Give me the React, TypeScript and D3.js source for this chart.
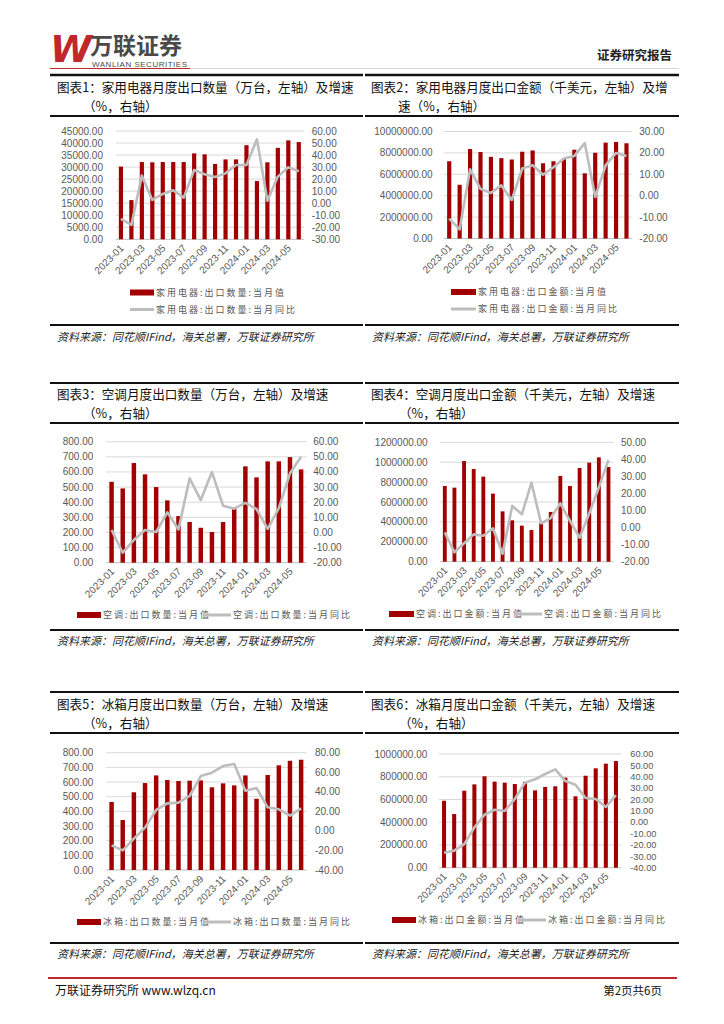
import React from "react";
import * as d3 from "d3";

const MONTHS = [
  "2023-01","2023-02","2023-03","2023-04","2023-05","2023-06",
  "2023-07","2023-08","2023-09","2023-10","2023-11","2023-12",
  "2024-01","2024-02","2024-03","2024-04","2024-05","2024-06",
];
const TICK_MONTHS = ["2023-01","2023-03","2023-05","2023-07","2023-09","2023-11","2024-01","2024-03","2024-05"];

// 家用电器 出口数量(万台) / 同比(%)
const APPL_QTY = [30200,16300,32100,32000,32100,32100,32100,35700,35300,31300,33200,33200,39100,24200,32000,38000,41100,40400];
const APPL_QTY_YOY = [-13.1,-18.1,22.9,2.7,7.7,10.7,4.6,27.6,24.0,21.8,24.8,31.8,31.8,53.1,2.1,22.1,29.8,26.5];
// 家用电器 出口金额(千美元) / 同比(%)
const APPL_VAL = [7220000,5020000,8360000,8080000,7630000,7510000,7380000,8110000,8230000,7030000,7220000,7450000,8300000,6090000,8010000,8960000,9020000,8900000];
const APPL_VAL_YOY = [-10.7,-15.7,12.3,3.2,1.3,4.8,-2.0,12.7,14.2,9.8,13.3,17.4,18.6,24.6,-0.6,14.2,20.0,18.6];
// 空调 出口数量 / 同比
const AC_QTY = [535,491,659,584,500,412,308,269,231,203,269,364,637,564,670,670,698,617];
const AC_QTY_YOY = [1.6,-13.4,-5.0,1.6,0.3,13.3,2.0,35.8,21.4,39.9,17.7,15.7,19.5,15.5,2.3,16.0,39.1,50.1];
// 空调 出口金额 / 同比
const AC_VAL = [761000,744000,1012000,932000,855000,684000,506000,416000,362000,318000,385000,500000,862000,761000,942000,996000,1049000,952000];
const AC_VAL_YOY = [-2.8,-14.5,-9.2,-4.0,-4.8,-0.4,-15.3,12.7,7.8,26.3,2.5,5.6,14.2,3.9,-5.9,8.3,23.6,39.6];
// 冰箱 出口数量 / 同比
const FR_QTY = [464,341,530,593,645,614,607,609,611,564,591,577,645,486,648,714,745,752];
const FR_QTY_YOY = [-14.8,-19.9,-7.9,3.3,21.4,28.2,28.9,35.7,56.1,59.5,66.3,68.4,41.1,43.9,24.1,22.1,15.6,23.1];
// 冰箱 出口金额 / 同比
const FR_VAL = [589000,472000,677000,733000,804000,757000,748000,736000,755000,680000,710000,716000,792000,628000,809000,874000,915000,938000];
const FR_VAL_YOY = [-26.8,-25.0,-19.2,-4.5,6.6,11.0,9.9,20.4,34.8,37.7,42.4,46.5,36.2,33.0,21.3,20.4,13.4,23.9];

const C1_LEFT = [0,5000,10000,15000,20000,25000,30000,35000,40000,45000];
const C1_RIGHT = [-30,-20,-10,0,10,20,30,40,50,60];
const C2_LEFT = [0,2000000,4000000,6000000,8000000,10000000];
const C2_RIGHT = [-20,-10,0,10,20,30];
const C3_LEFT = [0,100,200,300,400,500,600,700,800];
const C3_RIGHT = [-20,-10,0,10,20,30,40,50,60];
const C4_LEFT = [0,200000,400000,600000,800000,1000000,1200000];
const C4_RIGHT = [-20,-10,0,10,20,30,40,50];
const C5_LEFT = [0,100,200,300,400,500,600,700,800];
const C5_RIGHT = [-40,-20,0,20,40,60,80];
const C6_LEFT = [0,200000,400000,600000,800000,1000000];
const C6_RIGHT = [-40,-30,-20,-10,0,10,20,30,40,50,60];

const BAR_COLOR = "#a20000";
const LINE_COLOR = "#bdbdbd";
const AXIS_FONT = "'Liberation Sans', Arial, sans-serif";
const LEGEND_FONT = "'Noto Sans CJK SC', 'Noto Sans', sans-serif";
const TEXT_COLOR = "#595959";

type ChartProps = {
  bars: number[];
  line: number[];
  x0: number; x1: number; yTop: number; yBot: number;
  leftTicks: number[]; rightTicks: number[];
  leftLabelX: number; rightLabelX: number;
  rightFont?: number;
};

function Chart(p: ChartProps) {
  const x = d3.scaleBand<string>().domain(MONTHS).range([p.x0, p.x1]).paddingInner(0.6).paddingOuter(0.3);
  const yL = d3.scaleLinear().domain([d3.min(p.leftTicks)!, d3.max(p.leftTicks)!]).range([p.yBot, p.yTop]);
  const yR = d3.scaleLinear().domain([d3.min(p.rightTicks)!, d3.max(p.rightTicks)!]).range([p.yBot, p.yTop]);
  const cx = (m: string) => (x(m) as number) + x.bandwidth() / 2;
  const path = d3.line<number>().x((_, i) => cx(MONTHS[i])).y((d) => yR(d))(p.line) || "";
  const fmt = (v: number) => v.toFixed(2);
  return (
    <g>
      {p.leftTicks.map((t) => (
        <line key={"g" + t} x1={p.x0} x2={p.x1} y1={yL(t)} y2={yL(t)} stroke={t === 0 ? "#bfbfbf" : "#d9d9d9"} strokeWidth={1} />
      ))}
      {p.bars.map((v, i) => (
        <rect key={"b" + i} x={x(MONTHS[i])} y={yL(v)} width={x.bandwidth()} height={p.yBot - yL(v)} fill={BAR_COLOR} />
      ))}
      <path d={path} fill="none" stroke={LINE_COLOR} strokeWidth={2.6} strokeLinejoin="round" />
      {p.leftTicks.map((t) => (
        <text key={"l" + t} x={p.leftLabelX} y={yL(t)} dy="0.35em" textAnchor="end" fontSize={10} fill={TEXT_COLOR} fontFamily={AXIS_FONT}>{fmt(t)}</text>
      ))}
      {p.rightTicks.map((t) => (
        <text key={"r" + t} x={p.rightLabelX} y={yR(t)} dy="0.35em" textAnchor="start" fontSize={p.rightFont || 10} fill={TEXT_COLOR} fontFamily={AXIS_FONT}>{fmt(t)}</text>
      ))}
      {TICK_MONTHS.map((m) => (
        <text key={"x" + m} transform={`translate(${cx(m) + 1},${p.yBot + 7}) rotate(-45)`} textAnchor="end" dy="0.35em" fontSize={10} fill={TEXT_COLOR} fontFamily={AXIS_FONT}>{m}</text>
      ))}
    </g>
  );
}

type LegendItem = { kind: "bar" | "line"; x: number; y: number; w: number; label: string };
function Legend({ items }: { items: LegendItem[] }) {
  return (
    <g>
      {items.map((it, i) => (
        <g key={i}>
          {it.kind === "bar" ? (
            <rect x={it.x} y={it.y - 3} width={it.w} height={6} fill={BAR_COLOR} />
          ) : (
            <line x1={it.x} x2={it.x + it.w} y1={it.y} y2={it.y} stroke={LINE_COLOR} strokeWidth={3} />
          )}
          <text x={it.x + it.w + 2} y={it.y} dy="0.35em" fontSize={9} letterSpacing={2} fill={TEXT_COLOR} fontFamily={LEGEND_FONT}>{it.label}</text>
        </g>
      ))}
    </g>
  );
}

const TITLE_FONT = "'Noto Sans CJK SC', sans-serif";
function Title({ x, y, l1, l2, indent }: { x: number; y: number; l1: string; l2: string; indent: number }) {
  return (
    <g fontFamily={TITLE_FONT} fontSize={12.6} fill="#111">
      <text x={x} y={y} dy="0.35em">{l1}</text>
      <text x={x + indent} y={y + 19} dy="0.35em">{l2}</text>
    </g>
  );
}

function Rule({ y, w = 2 }: { y: number; w?: number }) {
  return (
    <g>
      <line x1={50} x2={363} y1={y} y2={y} stroke="#111" strokeWidth={w} />
      <line x1={365} x2={679} y1={y} y2={y} stroke="#111" strokeWidth={w} />
    </g>
  );
}

function Source({ x, y }: { x: number; y: number }) {
  return (
    <text x={x} y={y} dy="0.35em" fontSize={11} fontStyle="italic" fill="#222" fontFamily={TITLE_FONT}>
      资料来源：同花顺IFind，海关总署，万联证券研究所
    </text>
  );
}

export default function App() {
  return (
    <svg width={724} height={1024} style={{ position: "absolute", left: 0, top: 0, background: "#fff" }}>
      <rect x={0} y={0} width={724} height={1024} fill="#fff" />
      {/* Header */}
      <text x={50} y={62} fontSize={38} fontWeight={900} fontStyle="italic" fill="#c0282d" fontFamily="'DejaVu Sans', sans-serif">W</text>
      <text x={90} y={54} fontSize={23} fontWeight={700} fill="#4a4a4a" fontFamily={TITLE_FONT}>万联证券</text>
      <text x={92} y={66.5} fontSize={8} fill="#4a4a4a" fontFamily="'Liberation Sans', sans-serif" textLength={95}>WANLIAN SECURITIES</text>
      <line x1={50} x2={190} y1={68.5} y2={68.5} stroke="#c0282d" strokeWidth={1} />
      <line x1={190} x2={679} y1={68.5} y2={68.5} stroke="#cfcfcf" strokeWidth={0.8} />
      <text x={672} y={56} dy="0.35em" textAnchor="end" fontSize={12.5} fontWeight={700} fill="#222" fontFamily={TITLE_FONT}>证券研究报告</text>

      <Rule y={75} w={2.5} />
      <Title x={57} y={88} l1="图表1：家用电器月度出口数量（万台，左轴）及增速" l2="（%，右轴）" indent={26} />
      <Title x={371} y={88} l1="图表2：家用电器月度出口金额（千美元，左轴）及增" l2="速（%，右轴）" indent={27} />
      <Rule y={116} />
      <Chart bars={APPL_QTY} line={APPL_QTY_YOY} x0={115.7} x1={304} yTop={131} yBot={239.3}
        leftTicks={C1_LEFT} rightTicks={C1_RIGHT} leftLabelX={103} rightLabelX={311.7} />
      <Chart bars={APPL_VAL} line={APPL_VAL_YOY} x0={444} x1={631.7} yTop={131.5} yBot={238.5}
        leftTicks={C2_LEFT} rightTicks={C2_RIGHT} leftLabelX={432.7} rightLabelX={639.3} />
      <Legend items={[
        { kind: "bar", x: 130, y: 292.5, w: 24, label: "家用电器:出口数量:当月值" },
        { kind: "line", x: 130, y: 309.5, w: 24, label: "家用电器:出口数量:当月同比" },
        { kind: "bar", x: 451, y: 292, w: 25, label: "家用电器:出口金额:当月值" },
        { kind: "line", x: 451, y: 309, w: 25, label: "家用电器:出口金额:当月同比" },
      ]} />
      <Rule y={325} />
      <Source x={57} y={337} />
      <Source x={372} y={337} />

      <Rule y={383} />
      <Title x={57} y={395} l1="图表3：空调月度出口数量（万台，左轴）及增速" l2="（%，右轴）" indent={26} />
      <Title x={371} y={395} l1="图表4：空调月度出口金额（千美元，左轴）及增速" l2="（%，右轴）" indent={28} />
      <Rule y={423} />
      <Chart bars={AC_QTY} line={AC_QTY_YOY} x0={106} x1={306.7} yTop={441.7} yBot={562.7}
        leftTicks={C3_LEFT} rightTicks={C3_RIGHT} leftLabelX={93.3} rightLabelX={313.3} />
      <Chart bars={AC_VAL} line={AC_VAL_YOY} x0={440} x1={613.3} yTop={442.3} yBot={561.7}
        leftTicks={C4_LEFT} rightTicks={C4_RIGHT} leftLabelX={427.7} rightLabelX={621} />
      <Legend items={[
        { kind: "bar", x: 77, y: 615, w: 24, label: "空调:出口数量:当月值" },
        { kind: "line", x: 203, y: 615, w: 28, label: "空调:出口数量:当月同比" },
        { kind: "bar", x: 389, y: 614, w: 25, label: "空调:出口金额:当月值" },
        { kind: "line", x: 514, y: 614, w: 28, label: "空调:出口金额:当月同比" },
      ]} />
      <Rule y={630} />
      <Source x={57} y={641} />
      <Source x={372} y={641} />

      <Rule y={692} />
      <Title x={57} y={705} l1="图表5：冰箱月度出口数量（万台，左轴）及增速" l2="（%，右轴）" indent={26} />
      <Title x={371} y={705} l1="图表6：冰箱月度出口金额（千美元，左轴）及增速" l2="（%，右轴）" indent={28} />
      <Rule y={733} />
      <Chart bars={FR_QTY} line={FR_QTY_YOY} x0={106} x1={306.7} yTop={752.7} yBot={870}
        leftTicks={C5_LEFT} rightTicks={C5_RIGHT} leftLabelX={93.3} rightLabelX={315} />
      <Chart bars={FR_VAL} line={FR_VAL_YOY} x0={439} x1={621} yTop={754} yBot={867.7}
        leftTicks={C6_LEFT} rightTicks={C6_RIGHT} leftLabelX={427.3} rightLabelX={630.3} rightFont={9.2} />
      <Legend items={[
        { kind: "bar", x: 77, y: 922, w: 24, label: "冰箱:出口数量:当月值" },
        { kind: "line", x: 203, y: 922, w: 28, label: "冰箱:出口数量:当月同比" },
        { kind: "bar", x: 392, y: 920, w: 24, label: "冰箱:出口金额:当月值" },
        { kind: "line", x: 518, y: 920, w: 28, label: "冰箱:出口金额:当月同比" },
      ]} />
      <Rule y={943} />
      <Source x={57} y={954} />
      <Source x={372} y={954} />

      {/* Footer */}
      <line x1={48} x2={677} y1={978} y2={978} stroke="#c0282d" strokeWidth={2} />
      <text x={55} y={991} dy="0.35em" fontSize={12} fill="#111" fontFamily={TITLE_FONT}>万联证券研究所 www.wlzq.cn</text>
      <text x={662} y={991} dy="0.35em" textAnchor="end" fontSize={11.5} fill="#111" fontFamily={TITLE_FONT}>第2页共6页</text>
    </svg>
  );
}
